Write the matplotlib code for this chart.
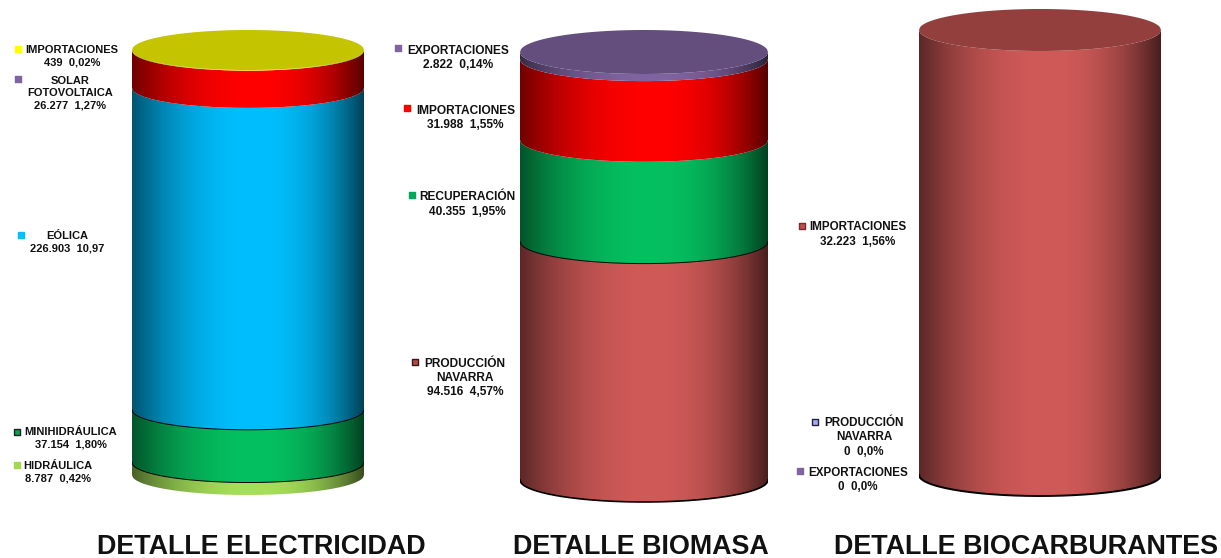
import numpy as np
import matplotlib
matplotlib.use("Agg")
import matplotlib.pyplot as plt
from matplotlib.path import Path
from matplotlib.patches import PathPatch
from matplotlib.colors import to_rgb

plt.rcParams['font.family'] = ['Liberation Sans', 'DejaVu Sans']

W, H = 1221, 558

# ---- data (stack order: bottom to top) ----
elec_names = ["HIDRÁULICA", "MINIHIDRÁULICA", "EÓLICA", "SOLAR\nFOTOVOLTAICA", "IMPORTACIONES"]
elec_values = [8787, 37154, 226903, 26277, 439]
elec_pcts = ["0,42%", "1,80%", "10,97", "1,27%", "0,02%"]
elec_colors = ["#A6E05A", "#05C060", "#00BFFF", "#FF0000", "#FFFF00"]
elec_key_colors = ["#A6D84F", "#05A050", "#00BFFF", "#8064A2", "#FFFF00"]

bio_names = ["PRODUCCIÓN\nNAVARRA", "RECUPERACIÓN", "IMPORTACIONES", "EXPORTACIONES"]
bio_values = [94516, 40355, 31988, 2822]
bio_pcts = ["4,57%", "1,95%", "1,55%", "0,14%"]
bio_colors = ["#D05A58", "#05C060", "#FF0000", "#8064A2"]
bio_key_colors = ["#B04A48", "#05A858", "#FF0000", "#8064A2"]

carb_names = ["IMPORTACIONES", "PRODUCCIÓN\nNAVARRA", "EXPORTACIONES"]
carb_values = [32223, 0, 0]
carb_pcts = ["1,56%", "0,0%", "0,0%"]
carb_colors = ["#D05A58", "#A9A9F5", "#8064A2"]
carb_key_colors = ["#C0504D", "#A9A9F5", "#8064A2"]

titles = ["DETALLE ELECTRICIDAD", "DETALLE BIOMASA", "DETALLE BIOCARBURANTES"]

# ---- layout in pixels ----
# left, right, y of top ellipse centre, y of bottom ellipse centre, ellipse semi-height
cyl_boxes = [(132, 364, 50, 475, 20), (520, 768, 52, 480, 22), (919, 1161, 30, 475, 21)]
# key x, key y, text centre x, first text line y
elec_pos = [(17, 465, 58, 461), (17, 432, 71, 427), (21, 235, 67, 231), (18, 79, 70, 76), (18, 49, 72, 45)]
bio_pos = [(415, 362, 465, 358), (412, 195, 467.5, 191.5), (407, 108, 465.5, 104.5), (398, 48, 458, 44.5)]
carb_pos = [(802, 226, 858, 221.5), (815, 422, 864, 417), (800, 471, 858, 467)]
edge_keys = {"elec": {1: "#222222"}, "bio": {0: "#3a1818"}, "carb": {0: "#7a2a2a", 1: "#222244"}}
title_x = [261.5, 641, 1026]
title_y = 547

fig = plt.figure(figsize=(W / 100, H / 100), dpi=100, facecolor="white")


def shade(x):
    """brightness across the cylinder front"""
    u = (x - 0.08) / np.where(x < 0.08, 1.08, 0.92)
    base = np.where(x < 0.08, 0.44, 0.34)
    return base + (1 - base) * (1 - np.abs(u) ** 2.2)


def cylinder(values, colors, box, outline=(), bottom_lw=0.0, cap_factor=0.77):
    left, right, ytop, ybot, ry_px = box
    total = sum(values)
    per_px = total / (ybot - ytop)
    ry = ry_px * per_px
    ax = fig.add_axes([left / W, 1 - (ybot + ry_px + 2) / H,
                       (right - left) / W, (ybot - ytop + 2 * ry_px + 4) / H])
    xs = np.linspace(-1, 1, 241)
    arc = np.sqrt(1 - xs ** 2)
    strip = shade(xs)[None, :, None]
    bottoms = np.cumsum([0] + list(values[:-1]))
    for i, (v, b, c) in enumerate(zip(values, bottoms, colors)):
        if v <= 0:
            continue
        low = b - ry * arc
        high = (b + v) - ry * arc
        verts = np.r_[np.c_[xs, low], np.c_[xs[::-1], high[::-1]], [[xs[0], low[0]]]]
        img = np.clip(strip * np.array(to_rgb(c))[None, None, :], 0, 1)
        im = ax.imshow(img, extent=(-1, 1, b - ry - 1, b + v + 1), aspect="auto",
                       interpolation="bilinear", zorder=2 + i * 0.01)
        im.set_clip_path(PathPatch(Path(verts), transform=ax.transData))
        if i in outline:
            ax.plot(xs, low, color="black", lw=0.7, zorder=3)
    if bottom_lw:
        ax.plot(xs, -ry * arc, color="black", lw=bottom_lw, zorder=3)
    # top cap of the last non-empty segment
    top_c = [c for v, c in zip(values, colors) if v > 0][-1]
    cap = np.r_[np.c_[xs, total + ry * arc], np.c_[xs[::-1], total - ry * arc[::-1]]]
    ax.fill(cap[:, 0], cap[:, 1], color=np.array(to_rgb(top_c)) * cap_factor, lw=0, zorder=4)
    ax.set_xlim(-1, 1)
    ax.set_ylim(-ry - 2 * per_px, total + ry + 2 * per_px)
    ax.axis("off")
    return ax


cylinder(elec_values, elec_colors, cyl_boxes[0], outline=[1, 2])
cylinder(bio_values, bio_colors, cyl_boxes[1], outline=[1], bottom_lw=1.2, cap_factor=0.78)
cylinder(carb_values, carb_colors, cyl_boxes[2], bottom_lw=1.4, cap_factor=0.70)

# overlay for labels, in pixel coordinates
ov = fig.add_axes([0, 0, 1, 1], zorder=10)
ov.set_xlim(0, W)
ov.set_ylim(H, 0)
ov.axis("off")


def fmt(v):
    return f"{v:,}".replace(",", ".")


def labels(names, values, pcts, colors, pos, edges, size, spacing):
    for i, (n, v, p, c, (kx, ky, tx, ty)) in enumerate(zip(names, values, pcts, colors, pos)):
        ov.scatter([kx], [ky], marker="s", s=20, color=c,
                   edgecolors=edges.get(i, c), linewidths=1.0)
        ov.text(tx, ty, f"{n}\n{fmt(v)}  {p}", ha="center", va="top", fontsize=size,
                fontweight="bold", color="#111111", linespacing=spacing)


labels(elec_names, elec_values, elec_pcts, elec_key_colors, elec_pos, edge_keys["elec"], 8, 1.28)
labels(bio_names, bio_values, bio_pcts, bio_key_colors, bio_pos, edge_keys["bio"], 8.6, 1.236)
labels(carb_names, carb_values, carb_pcts, carb_key_colors, carb_pos, edge_keys["carb"], 8.4, 1.265)

for t, x in zip(titles, title_x):
    ov.text(x, title_y, t, ha="center", va="center", fontsize=19.4, fontweight="bold", color="#111111")

fig.savefig("out.png", dpi=100, facecolor="white")
